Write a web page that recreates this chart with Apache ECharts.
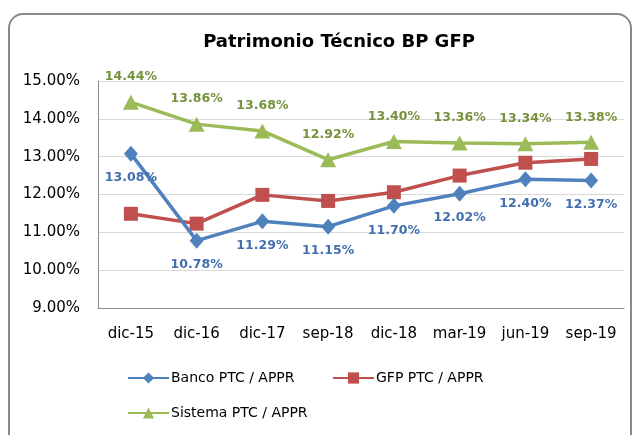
<!DOCTYPE html>
<html>
<head>
<meta charset="utf-8">
<script src="https://cdn.jsdelivr.net/npm/echarts@6/dist/echarts.min.js"></script>
<style>
  html, body { margin: 0; padding: 0; background: #fff; }
  #chart { width: 640px; height: 435px; }
</style>
</head>
<body>
<div id="chart"></div>
<script>
var categories = ["dic-15", "dic-16", "dic-17", "sep-18", "dic-18", "mar-19", "jun-19", "sep-19"];
var banco = [13.08, 10.78, 11.29, 11.15, 11.70, 12.02, 12.40, 12.37];
var gfp = [11.49, 11.23, 11.99, 11.83, 12.06, 12.50, 12.84, 12.94];
var sistema = [14.44, 13.86, 13.68, 12.92, 13.40, 13.36, 13.34, 13.38];

var font = "'DejaVu Sans', 'Liberation Sans', sans-serif";
var myChart = echarts.init(document.getElementById("chart"));

function pct(p) {
  return p.value.toFixed(2) + "%";
}

// estilo comun de la leyenda
function legendBox(left, top, names) {
  return {
    left: left,
    top: top,
    itemWidth: 41,
    itemHeight: 14,
    data: names,
    textStyle: { fontFamily: font, fontSize: 14, color: "#000", padding: [0, 0, 0, -3] }
  };
}

var option = {
  backgroundColor: "#fff",
  animation: false,
  graphic: [{
    type: "rect",
    shape: { x: 9, y: 14, width: 622, height: 440, r: 14 },
    style: { fill: "none", stroke: "#8a8a8a", lineWidth: 2 },
    silent: true
  }],
  title: {
    text: "Patrimonio Técnico BP GFP",
    left: 334,
    top: 28,
    textAlign: "center",
    textStyle: { fontFamily: font, fontSize: 18, fontWeight: "bold", color: "#000" }
  },
  grid: { left: 98, right: 16, top: 81, bottom: 127 },
  legend: [
    legendBox(122, 366, ["Banco PTC / APPR"]),
    legendBox(327, 366, ["GFP PTC / APPR"]),
    legendBox(122, 401, ["Sistema PTC / APPR"])
  ],
  xAxis: {
    type: "category",
    data: categories,
    boundaryGap: true,
    axisLine: { lineStyle: { color: "#8c8c8c" } },
    axisTick: { show: false },
    axisLabel: { interval: 0, fontFamily: font, fontSize: 15, color: "#000", margin: 19 }
  },
  yAxis: {
    type: "value",
    min: 9,
    max: 15,
    interval: 1,
    axisLine: { show: true, lineStyle: { color: "#8c8c8c" } },
    axisTick: { show: false },
    splitLine: { lineStyle: { color: "#d9d9d9" } },
    axisLabel: {
      fontFamily: font, fontSize: 15, color: "#000", margin: 18,
      formatter: function (v) { return v.toFixed(2) + "%"; }
    }
  },
  series: [{
    name: "Banco PTC / APPR",
    type: "line",
    data: banco,
    symbol: "diamond",
    symbolSize: [14, 16],
    lineStyle: { width: 3.5, color: "#4F81BD" },
    itemStyle: { color: "#4F81BD" },
    label: {
      show: true, position: "bottom", distance: 10, formatter: pct,
      fontFamily: font, fontSize: 12.5, fontWeight: "bold", color: "#4270AE"
    },
    z: 3
  }, {
    name: "GFP PTC / APPR",
    type: "line",
    data: gfp,
    symbol: "rect",
    symbolSize: 14,
    lineStyle: { width: 3.5, color: "#C0504D" },
    itemStyle: { color: "#C0504D" },
    z: 2
  }, {
    name: "Sistema PTC / APPR",
    type: "line",
    data: sistema,
    symbol: "triangle",
    symbolSize: [16, 15],
    lineStyle: { width: 3.5, color: "#9BBB59" },
    itemStyle: { color: "#9BBB59" },
    label: {
      show: true, position: "top", distance: 11, formatter: pct,
      fontFamily: font, fontSize: 12.5, fontWeight: "bold", color: "#76923C"
    },
    z: 4
  }]
};

myChart.setOption(option);
window.addEventListener("resize", function () { myChart.resize(); });
</script>
</body>
</html>
